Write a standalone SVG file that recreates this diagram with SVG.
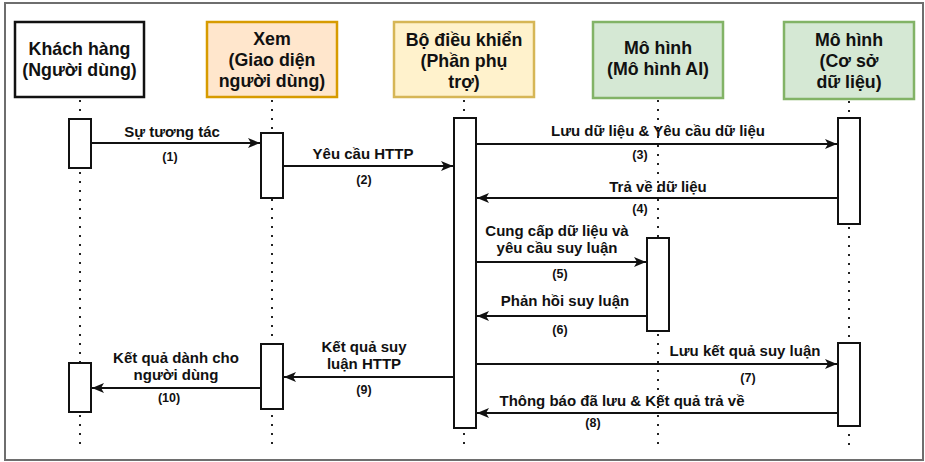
<svg xmlns="http://www.w3.org/2000/svg" width="925" height="462" viewBox="0 0 925 462">
  <style>
    .frame { fill: #ffffff; stroke: #6e6e6e; stroke-width: 2; }
    .head { font-family: "Liberation Sans", Arial, sans-serif; font-weight: bold; font-size: 17.8px; fill: #111111; text-anchor: middle; }
    .lbl { font-family: "Liberation Sans", Arial, sans-serif; font-weight: bold; font-size: 15px; fill: #111111; text-anchor: middle; }
    .num { font-family: "Liberation Sans", Arial, sans-serif; font-weight: bold; font-size: 12.5px; fill: #111111; text-anchor: middle; }
    .life { stroke: #222222; stroke-width: 2; stroke-dasharray: 2 7; fill: none; }
    .act { fill: #ffffff; stroke: #111111; stroke-width: 2; }
    .msg { stroke: #111111; stroke-width: 2; fill: none; marker-end: url(#arrow); }
    .user { fill: #ffffff; stroke: #111111; stroke-width: 2.5; }
    .view { fill: #ffe6cc; stroke: #d79b00; stroke-width: 2.5; }
    .ctrl { fill: #fff2cc; stroke: #d6b656; stroke-width: 2.5; }
    .model { fill: #d5e8d4; stroke: #82b366; stroke-width: 2.5; }
  </style>
  <defs>
    <marker id="arrow" markerUnits="userSpaceOnUse" markerWidth="14" markerHeight="12" refX="12" refY="5" orient="auto">
      <path d="M0,0 L12,5 L0,10 L3,5 Z" fill="#111111"/>
    </marker>
  </defs>

  <!-- outer frame -->
  <rect class="frame" x="5" y="3" width="918" height="457"/>

  <!-- lifelines -->
  <g id="lifelines">
    <line class="life" x1="80" y1="100" x2="80" y2="450"/>
    <line class="life" x1="272" y1="100" x2="272" y2="450"/>
    <line class="life" x1="464" y1="100" x2="464" y2="450"/>
    <line class="life" x1="658" y1="100" x2="658" y2="450"/>
    <line class="life" x1="849" y1="101" x2="849" y2="450"/>
  </g>

  <!-- participants -->
  <g id="node-customer">
    <rect class="user" x="15" y="22" width="129" height="75"/>
    <text class="head" x="79.5" y="55">Khách hàng</text>
    <text class="head" x="79.5" y="76">(Người dùng)</text>
  </g>
  <g id="node-view">
    <rect class="view" x="207" y="22" width="130" height="75"/>
    <text class="head" x="272" y="45">Xem</text>
    <text class="head" x="272" y="66">(Giao diện</text>
    <text class="head" x="272" y="87">người dùng)</text>
  </g>
  <g id="node-controller">
    <rect class="ctrl" x="394" y="22" width="140" height="75"/>
    <text class="head" x="464" y="46">Bộ điều khiển</text>
    <text class="head" x="464" y="67">(Phần phụ</text>
    <text class="head" x="464" y="88">trợ)</text>
  </g>
  <g id="node-ai-model">
    <rect class="model" x="593" y="22" width="130" height="76"/>
    <text class="head" x="658" y="54">Mô hình</text>
    <text class="head" x="658" y="75">(Mô hình AI)</text>
  </g>
  <g id="node-database">
    <rect class="model" x="784" y="22" width="130" height="77"/>
    <text class="head" x="849" y="46">Mô hình</text>
    <text class="head" x="849" y="67">(Cơ sở</text>
    <text class="head" x="849" y="88">dữ liệu)</text>
  </g>

  <!-- activation bars -->
  <g id="activations">
    <rect class="act" x="69" y="119" width="22" height="49"/>
    <rect class="act" x="69" y="363" width="22" height="49"/>
    <rect class="act" x="261" y="133" width="22" height="65"/>
    <rect class="act" x="261" y="344" width="22" height="65"/>
    <rect class="act" x="454" y="118" width="22" height="310"/>
    <rect class="act" x="647" y="238" width="22" height="93"/>
    <rect class="act" x="838" y="118" width="22" height="106"/>
    <rect class="act" x="838" y="343" width="22" height="83"/>
  </g>

  <!-- messages -->
  <g id="connectors">
    <line class="msg" x1="91" y1="143" x2="260" y2="143"/>
    <line class="msg" x1="283" y1="166" x2="453" y2="166"/>
    <line class="msg" x1="476" y1="144" x2="837" y2="144"/>
    <line class="msg" x1="838" y1="198" x2="477" y2="198"/>
    <line class="msg" x1="476" y1="262" x2="646" y2="262"/>
    <line class="msg" x1="647" y1="316" x2="477" y2="316"/>
    <line class="msg" x1="476" y1="364" x2="837" y2="364"/>
    <line class="msg" x1="838" y1="413" x2="477" y2="413"/>
    <line class="msg" x1="454" y1="377" x2="284" y2="377"/>
    <line class="msg" x1="261" y1="388" x2="92" y2="388"/>
  </g>

  <!-- message labels -->
  <g id="labels">
    <text class="lbl" x="172" y="137">Sự tương tác</text>
    <text class="num" x="170" y="161">(1)</text>
    <text class="lbl" x="363" y="159">Yêu cầu HTTP</text>
    <text class="num" x="364" y="184">(2)</text>
    <text class="lbl" x="658" y="136">Lưu dữ liệu &amp; Yêu cầu dữ liệu</text>
    <text class="num" x="640" y="159">(3)</text>
    <text class="lbl" x="658" y="192">Trả về dữ liệu</text>
    <text class="num" x="640" y="213">(4)</text>
    <text class="lbl" x="557" y="236">Cung cấp dữ liệu và</text>
    <text class="lbl" x="557" y="253">yêu cầu suy luận</text>
    <text class="num" x="560" y="278">(5)</text>
    <text class="lbl" x="565" y="306">Phản hồi suy luận</text>
    <text class="num" x="560" y="334">(6)</text>
    <text class="lbl" x="745" y="356">Lưu kết quả suy luận</text>
    <text class="num" x="748" y="382">(7)</text>
    <text class="lbl" x="622" y="406">Thông báo đã lưu &amp; Kết quả trả về</text>
    <text class="num" x="593" y="427">(8)</text>
    <text class="lbl" x="364" y="352">Kết quả suy</text>
    <text class="lbl" x="364" y="369">luận HTTP</text>
    <text class="num" x="364" y="394">(9)</text>
    <text class="lbl" x="176" y="363">Kết quả dành cho</text>
    <text class="lbl" x="176" y="380">người dùng</text>
    <text class="num" x="169" y="402">(10)</text>
  </g>
</svg>
